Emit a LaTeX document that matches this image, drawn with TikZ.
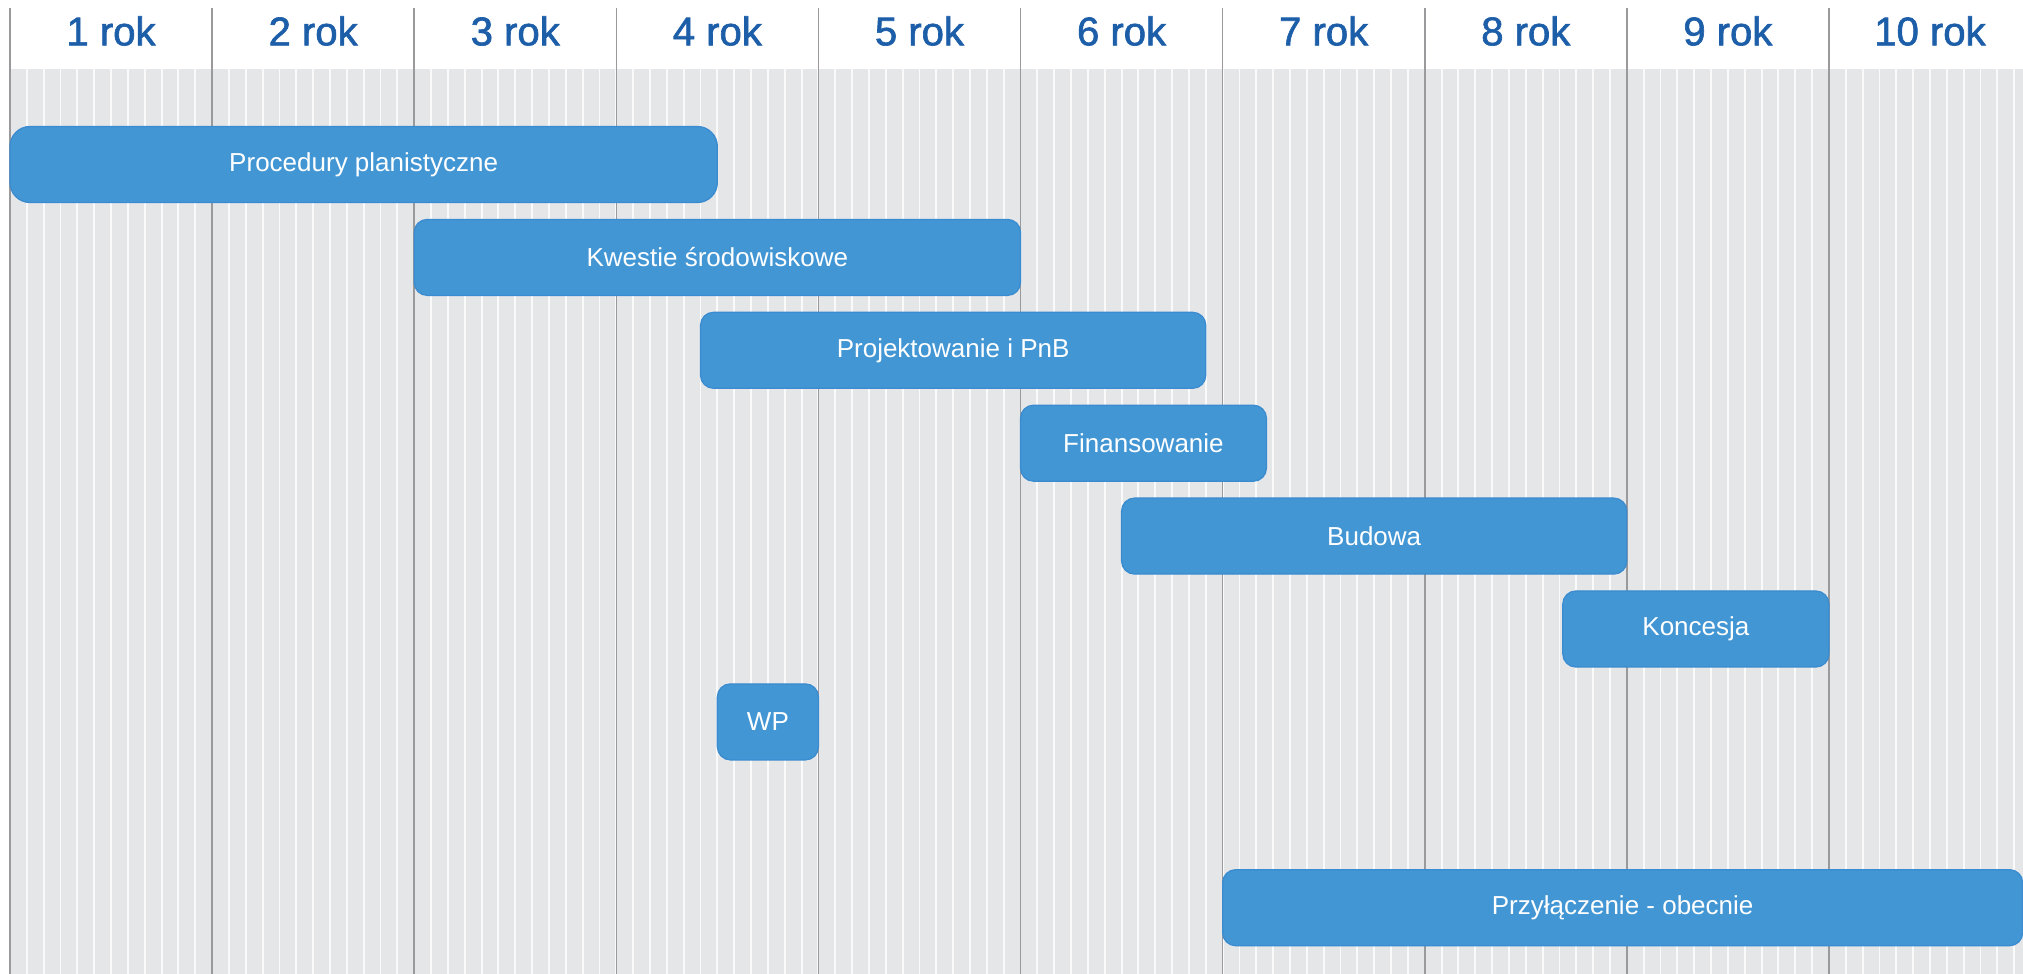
\documentclass[tikz,border=0pt]{standalone}
\usepackage{fontspec}
\setmainfont{Liberation Sans}
\newfontfamily\headfont[FakeBold=1.6]{Liberation Sans}
\usepackage{tikz}
\usetikzlibrary{positioning}
\definecolor{gridbg}{HTML}{E5E6E8}
\definecolor{monthline}{HTML}{FAFAFA}
\definecolor{yearline}{HTML}{9A9A9C}
\definecolor{barblue}{HTML}{4296D4}
\definecolor{barline}{HTML}{3A8BCF}
\definecolor{headblue}{HTML}{1D5EA9}
\def\mw{3.3684mm}
\tikzstyle{task} = [rectangle, rounded corners=2.6mm, minimum height=15.2mm, inner sep=0pt, text centered, draw=barline, line width=0.25mm, fill=barblue, text=white, font=\fontsize{14.8}{17}\selectfont]
\tikzstyle{yearlabel} = [text=headblue, font=\headfont\fontsize{22.8}{26}\selectfont]

\begin{document}
\begin{tikzpicture}[x=\mw, y=-0.2mm]

        % canvas and grid
        \useasboundingbox (-0.5938,0) rectangle (119.523,974);
        \fill[white] (-0.5938,0) rectangle (119.523,974);
        \fill[gridbg] (0,69) rectangle (119.523,974);
        \foreach \m in {1,...,119}
                \draw[monthline, line width=0.38mm] (\m,69) -- (\m,974);
        \foreach \y in {0,...,9}
                \draw[yearline, line width=0.32mm] ({\y*12},8) -- ({\y*12},974);
        \foreach \i in {1,...,10}
                \node (year\i) [yearlabel] at ({\i*12-6},31) {\i{} rok};

        % tasks
        \node (plan) [task, rounded corners=4mm, minimum width=42*\mw] at (21,164.5) {Procedury planistyczne};
        \node (env) [task, minimum width=36*\mw] at (42,257.4) {Kwestie środowiskowe};
        \node (design) [task, minimum width=30*\mw] at (56,350.3) {Projektowanie i PnB};
        \node (fin) [task, minimum width=14.6*\mw] at (67.3,443.2) {Finansowanie};
        \node (build) [task, minimum width=30*\mw] at (81,536.1) {Budowa};
        \node (conc) [task, minimum width=15.8*\mw] at (100.1,629) {Koncesja};
        \node (wp) [task, minimum width=6*\mw] at (45,721.9) {WP};
        \node (link) [task, minimum width=47.5*\mw] at (95.75,907.7) {Przyłączenie - obecnie};

\end{tikzpicture}
\end{document}
